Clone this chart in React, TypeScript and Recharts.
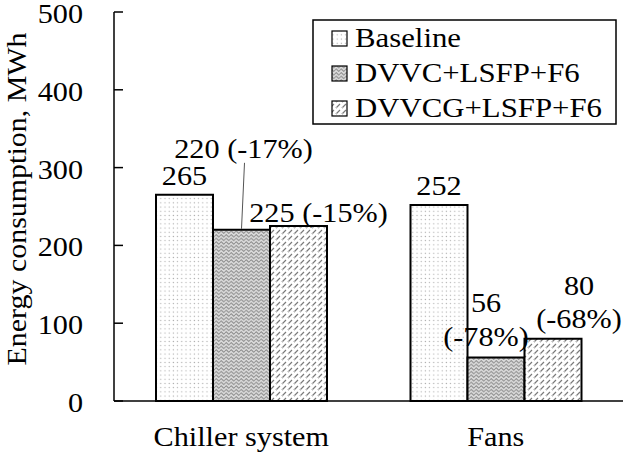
import { BarChart, Bar, XAxis, YAxis, LabelList } from 'recharts';

const categories = ['Chiller system', 'Fans'];
const baseline = [265, 252];
const dvvc = [220, 56];
const dvvcg = [225, 80];
const dvvcNotes = ['(-17%)', '(-78%)'];
const dvvcgNotes = ['(-15%)', '(-68%)'];
const seriesNames = ['Baseline', 'DVVC+LSFP+F6', 'DVVCG+LSFP+F6'];
const yTicks = [0, 100, 200, 300, 400, 500];

const data = categories.map((cat, i) => ({
  cat,
  baseline: baseline[i],
  dvvc: dvvc[i],
  dvvcg: dvvcg[i],
}));

const W = 625;
const H = 456;
const LEFT = 114;
const FONT = 'Liberation Serif';
const FS = 27;
const SX = 1.12;

function T({ x, y, children, anchor = 'middle', size = FS }: any) {
  return (
    <text
      transform={`translate(${x} ${y}) scale(${SX} 1)`}
      x={0}
      y={0}
      textAnchor={anchor}
      style={{ fontFamily: FONT, fontSize: size }}
      fill="#000"
    >
      {children}
    </text>
  );
}

// hatch fills drawn to look like the print patterns
function Patterns({ suffix = '' }: { suffix?: string }) {
  return (
    <defs>
      <pattern id={`pBase${suffix}`} width="4.2" height="4.2" patternUnits="userSpaceOnUse">
        <rect width="4.2" height="4.2" fill="#fff" />
        <circle cx="1.2" cy="1.2" r="0.65" fill="#aaa" />
      </pattern>
      <pattern id={`pDvvc${suffix}`} width="5" height="3.6" patternUnits="userSpaceOnUse">
        <rect width="5" height="3.6" fill="#dcdcdc" />
        <path d="M0 1.8 L1.25 0.6 L2.5 1.8 L3.75 3 L5 1.8" stroke="#8c8c8c" strokeWidth="1" fill="none" />
      </pattern>
      <pattern id={`pDvvcg${suffix}`} width="6" height="6" patternUnits="userSpaceOnUse">
        <rect width="6" height="6" fill="#fff" />
        <path d="M0.5 5.5 L4 2 M-1.5 1.5 L0.5 -0.5 M5 7 L7.5 4.5" stroke="#7a7a7a" strokeWidth="1.2" fill="none" />
      </pattern>
    </defs>
  );
}

function YTick({ y, payload }: any) {
  return (
    <g>
      <line x1={LEFT} x2={LEFT + 9} y1={y} y2={y} stroke="#000" strokeWidth={1.5} />
      <T x={83} y={y + 11} anchor="end">{payload.value}</T>
    </g>
  );
}

function XTick({ x, payload }: any) {
  return <T x={x} y={446}>{payload.value}</T>;
}

function YTitle() {
  return (
    <text
      transform={`translate(26 199) rotate(-90) scale(1.07 1)`}
      x={0}
      y={0}
      textAnchor="middle"
      style={{ fontFamily: FONT, fontSize: 28 }}
      fill="#000"
    >
      Energy consumption, MWh
    </text>
  );
}

function BaseLabel({ x, y, width, value }: any) {
  return <T x={x + width / 2} y={y - 10}>{value}</T>;
}

function DvvcLabel({ x, y, width, value, index }: any) {
  const cx = x + width / 2;
  if (index === 0) {
    return (
      <g>
        <T x={cx + 2} y={y - 72}>{`${value} ${dvvcNotes[index]}`}</T>
        <line x1={cx + 3} y1={y - 67} x2={cx} y2={y - 1} stroke="#555" strokeWidth={1} />
      </g>
    );
  }
  return (
    <g>
      <T x={cx - 10} y={y - 45}>{value}</T>
      <T x={cx - 10} y={y - 11}>{dvvcNotes[index]}</T>
    </g>
  );
}

function DvvcgLabel({ x, y, width, value, index }: any) {
  const cx = x + width / 2;
  if (index === 0) {
    return <T x={cx + 20} y={y - 4}>{`${value} ${dvvcgNotes[index]}`}</T>;
  }
  return (
    <g>
      <T x={cx + 26} y={y - 44}>{value}</T>
      <T x={cx + 26} y={y - 11}>{dvvcgNotes[index]}</T>
    </g>
  );
}

function LegendBox() {
  const fills = ['url(#pBaseL)', 'url(#pDvvcL)', 'url(#pDvvcgL)'];
  return (
    <svg width={W} height={H} style={{ position: 'absolute', left: 0, top: 0, pointerEvents: 'none' }}>
      <Patterns suffix="L" />
      <rect x={313} y={20} width={303} height={104} fill="#fff" stroke="#000" strokeWidth={1.5} />
      {seriesNames.map((name, i) => (
        <g key={name}>
          <rect x={332} y={31 + i * 35} width={15} height={15} fill={fills[i]} stroke="#000" strokeWidth={1.2} />
          <T x={355} y={47 + i * 35} anchor="start" size={27.5}>{name}</T>
        </g>
      ))}
    </svg>
  );
}

export default function App() {
  return (
    <div style={{ position: 'absolute', left: 0, top: 0, width: W, height: H, background: '#fff' }}>
      <BarChart
        width={W}
        height={H}
        data={data}
        margin={{ top: 12, right: 2, bottom: 0, left: 0 }}
        barGap={0}
        barCategoryGap={42}
      >
        <Patterns />
        <XAxis
          dataKey="cat"
          height={55}
          tickLine={false}
          axisLine={{ stroke: '#000', strokeWidth: 1.5 }}
          tick={<XTick />}
          interval={0}
        />
        <XAxis xAxisId="top" dataKey="cat" orientation="top" height={0} tick={false} tickLine={false} axisLine={{ stroke: '#000', strokeWidth: 1.5 }} />
        <YAxis
          width={LEFT}
          domain={[0, 500]}
          ticks={yTicks}
          tickLine={false}
          axisLine={{ stroke: '#000', strokeWidth: 1.5 }}
          tick={<YTick />}
          label={<YTitle />}
        />
        <YAxis yAxisId="r" orientation="right" width={0} domain={[0, 500]} tick={false} tickLine={false} axisLine={{ stroke: '#000', strokeWidth: 1.5 }} />
        <Bar dataKey="baseline" fill="url(#pBase)" stroke="#000" strokeWidth={2} isAnimationActive={false}>
          <LabelList dataKey="baseline" content={<BaseLabel />} />
        </Bar>
        <Bar dataKey="dvvc" fill="url(#pDvvc)" stroke="#000" strokeWidth={2} isAnimationActive={false}>
          <LabelList dataKey="dvvc" content={<DvvcLabel />} />
        </Bar>
        <Bar dataKey="dvvcg" fill="url(#pDvvcg)" stroke="#000" strokeWidth={2} isAnimationActive={false}>
          <LabelList dataKey="dvvcg" content={<DvvcgLabel />} />
        </Bar>
      </BarChart>
      <LegendBox />
    </div>
  );
}
